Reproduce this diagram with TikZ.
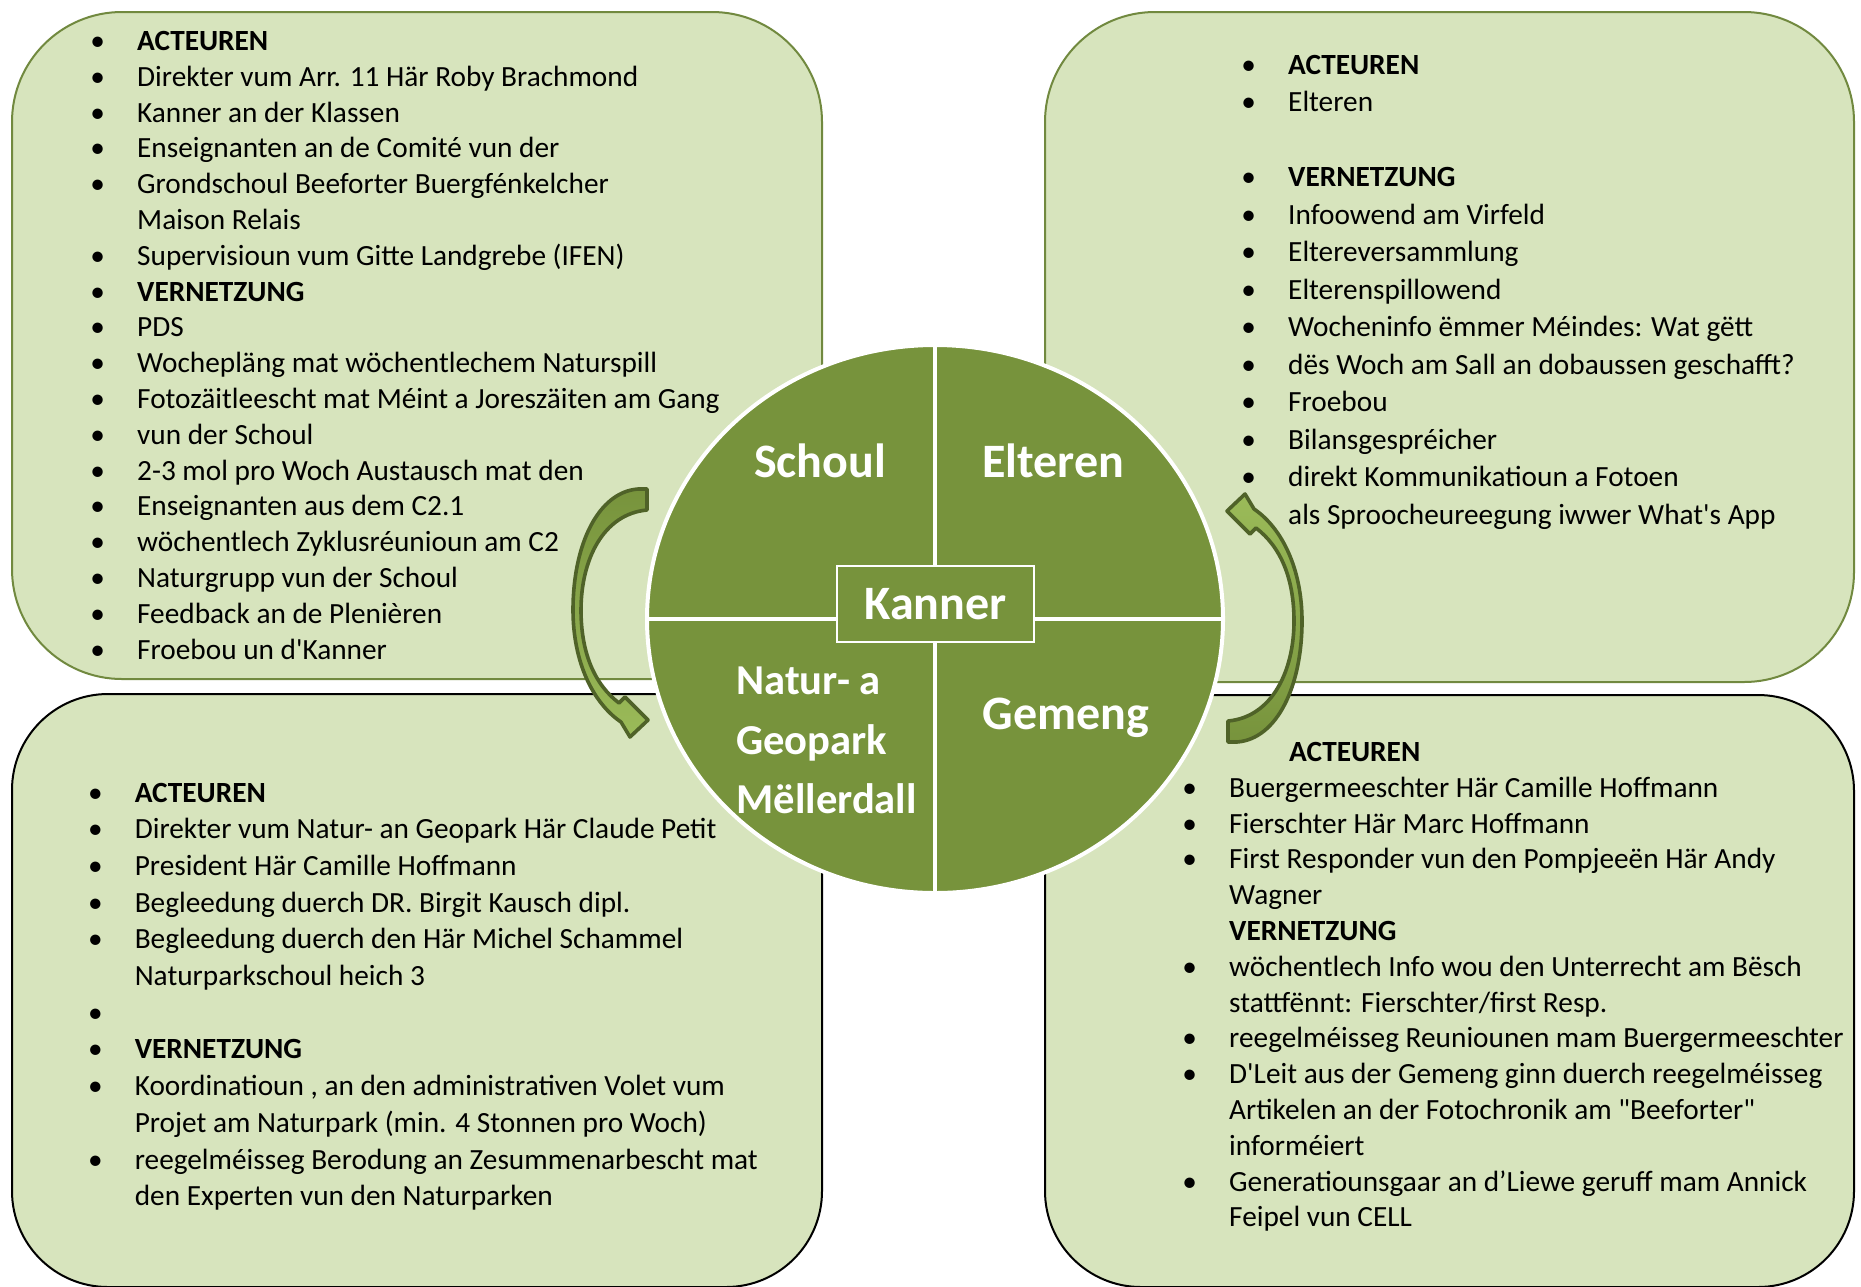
\documentclass[tikz,border=0pt]{standalone}
\usepackage{fontspec}
\setmainfont{Carlito}
\usetikzlibrary{shapes.geometric}
\definecolor{boxfill}{HTML}{D7E4BD}
\definecolor{boxline}{HTML}{71893F}
\definecolor{circfill}{HTML}{77933C}
\definecolor{arrline}{HTML}{4F6228}
\definecolor{arrlight}{HTML}{9BBB59}
\newcommand{\bitem}{\makebox[23.4pt][l]{\textbullet}}
\newcommand{\bcont}{\hspace*{23.4pt}}
\begin{document}
\begin{tikzpicture}[x=0.5pt,y=-0.5pt,
  panelA/.style={fill=boxfill,draw=boxline,line width=1pt,rounded corners=55pt},
  panelB/.style={fill=boxfill,draw=black,line width=1pt,rounded corners=48pt},
  listA/.style={anchor=base west,inner sep=0pt,font=\fontsize{14.65}{17.9}\selectfont},
  listB/.style={anchor=base west,inner sep=0pt,font=\fontsize{14.65}{18.75}\selectfont},
  listC/.style={anchor=base west,inner sep=0pt,font=\fontsize{14.65}{18.35}\selectfont},
  clabel/.style={text=white,font=\fontsize{24}{30}\selectfont\bfseries,inner sep=0pt},
  nlabel/.style={text=white,font=\fontsize{21.3}{26}\selectfont\bfseries,inner sep=0pt,anchor=base west},
  arrowshape/.style={draw=arrline,line width=1.8pt,line join=round}]
\useasboundingbox (0,0) rectangle (1861,1286);
\fill[white] (0,0) rectangle (1861,1286);
% panels
\draw[panelA] (12,12) rectangle (822,679);
\draw[panelA] (1045,12) rectangle (1854,682);
\draw[panelB] (12,694) rectangle (822,1287);
\draw[panelB] (1045,695) rectangle (1854,1287);
% texts
\node[listA] (tltext) at (90,50.5) {\begin{tabular}[t]{@{}l@{}}
\bitem\textbf{ACTEUREN}\\
\bitem Direkter vum Arr. 11 Här Roby Brachmond\\
\bitem Kanner an der Klassen\\
\bitem Enseignanten an de Comité vun der\\
\bitem Grondschoul Beeforter Buergfénkelcher\\
\bcont Maison Relais\\
\bitem Supervisioun vum Gitte Landgrebe (IFEN)\\
\bitem\textbf{VERNETZUNG}\\
\bitem PDS\\
\bitem Wochepläng mat wöchentlechem Naturspill\\
\bitem Fotozäitleescht mat Méint a Joreszäiten am Gang\\
\bitem vun der Schoul\\
\bitem 2-3 mol pro Woch Austausch mat den\\
\bitem Enseignanten aus dem C2.1\\
\bitem wöchentlech Zyklusréunioun am C2\\
\bitem Naturgrupp vun der Schoul\\
\bitem Feedback an de Plenièren\\
\bitem Froebou un d\textquotesingle Kanner
\end{tabular}};
\node[listB] (trtext) at (1241,74) {\begin{tabular}[t]{@{}l@{}}
\bitem\textbf{ACTEUREN}\\
\bitem Elteren\\
\\
\bitem\textbf{VERNETZUNG}\\
\bitem Infoowend am Virfeld\\
\bitem Eltereversammlung\\
\bitem Elterenspillowend\\
\bitem Wocheninfo ëmmer Méindes: Wat gëtt\\
\bitem dës Woch am Sall an dobaussen geschafft?\\
\bitem Froebou\\
\bitem Bilansgespréicher\\
\bitem direkt Kommunikatioun a Fotoen\\
\bcont als Sproocheureegung iwwer What\textquotesingle s App
\end{tabular}};
\node[listC] (bltext) at (87.6,802) {\begin{tabular}[t]{@{}l@{}}
\bitem\textbf{ACTEUREN}\\
\bitem Direkter vum Natur- an Geopark Här Claude Petit\\
\bitem President Här Camille Hoffmann\\
\bitem Begleedung duerch DR. Birgit Kausch dipl.\\
\bitem Begleedung duerch den Här Michel Schammel\\
\bcont Naturparkschoul heich 3\\
\bitem\\
\bitem\textbf{VERNETZUNG}\\
\bitem Koordinatioun , an den administrativen Volet vum\\
\bcont Projet am Naturpark (min. 4 Stonnen pro Woch)\\
\bitem reegelméisseg Berodung an Zesummenarbescht mat\\
\bcont den Experten vun den Naturparken
\end{tabular}};
\node[listA] (brtext) at (1182,761.5) {\begin{tabular}[t]{@{}l@{}}
\bcont\hspace*{30pt}\textbf{ACTEUREN}\\
\bitem Buergermeeschter Här Camille Hoffmann\\
\bitem Fierschter Här Marc Hoffmann\\
\bitem First Responder vun den Pompjeeën Här Andy\\
\bcont Wagner\\
\bcont\textbf{VERNETZUNG}\\
\bitem wöchentlech Info wou den Unterrecht am Bësch\\
\bcont stattfënnt: Fierschter/first Resp.\\
\bitem reegelméisseg Reuniounen mam Buergermeeschter\\
\bitem D\textquotesingle Leit aus der Gemeng ginn duerch reegelméisseg\\
\bcont Artikelen an der Fotochronik am \textquotedbl Beeforter\textquotedbl\\
\bcont informéiert\\
\bitem Generatiounsgaar an d’Liewe geruff mam Annick\\
\bcont Feipel vun CELL
\end{tabular}};
% central circle
\node[ellipse,fill=circfill,draw=white,line width=2pt,inner sep=0pt,outer sep=0pt,
  minimum width=288pt,minimum height=274pt] (circ) at (935,619) {};
\draw[white,line width=2.4pt] (circ.north) -- (circ.south);
\draw[white,line width=2.4pt] (circ.west) -- (circ.east);
\node[fill=circfill,draw=white,line width=0.8pt,minimum width=98.5pt,minimum height=38pt,
  inner sep=0pt,text=white,font=\fontsize{24}{30}\selectfont\bfseries] (kanner) at (935.5,604) {Kanner};
\node[clabel,anchor=base] (schoul) at (820,477) {Schoul};
\node[clabel,anchor=base] (elteren) at (1053,477) {Elteren};
\node[clabel,anchor=base] (gemeng) at (1066,729) {Gemeng};
\node[nlabel] (natur1) at (736,694) {Natur- a};
\node[nlabel] (natur2) at (736,754) {Geopark};
\node[nlabel] (natur3) at (736,813) {Mëllerdall};
% curved arrows
\filldraw[arrowshape,top color=circfill,bottom color=arrlight]
  (647,489) -- (638,489) .. controls (598,492) and (573,545) .. (573,610)
  .. controls (573,662) and (593,703) .. (621,722) -- (630,737) -- (648,720) -- (625,697) -- (619,703)
  .. controls (594,684) and (581,652) .. (581,610)
  .. controls (581,560) and (603,514) .. (647,510) -- cycle;
\filldraw[arrowshape,top color=arrlight,bottom color=circfill]
  (1228,742) -- (1237,742) .. controls (1277,739) and (1302,686) .. (1302,621)
  .. controls (1302,569) and (1282,528) .. (1254,509) -- (1245,494) -- (1227,511) -- (1250,534) -- (1256,528)
  .. controls (1281,547) and (1294,579) .. (1294,621)
  .. controls (1294,671) and (1272,717) .. (1228,721) -- cycle;
\end{tikzpicture}
\end{document}
